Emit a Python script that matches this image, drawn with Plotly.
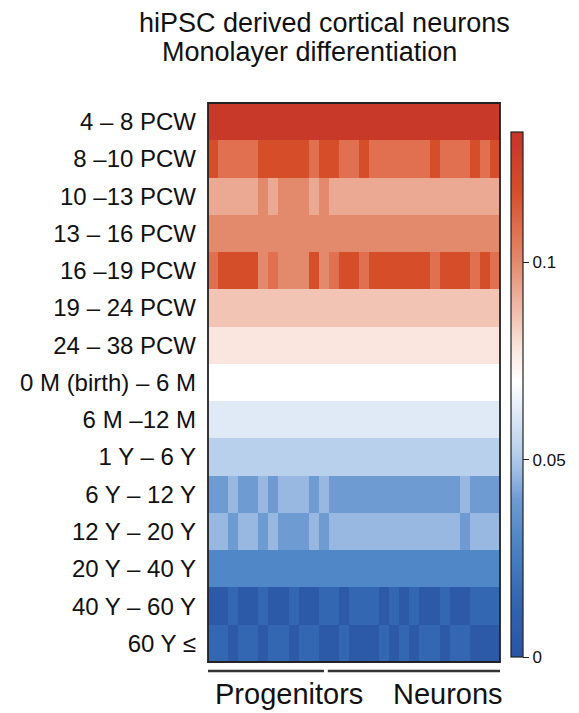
import plotly.graph_objects as go

# ---------------- data ----------------
row_labels = ["4 – 8 PCW", "8 –10 PCW", "10 –13 PCW", "13 – 16 PCW", "16 –19 PCW",
              "19 – 24 PCW", "24 – 38 PCW", "0 M (birth) – 6 M", "6 M –12 M",
              "1 Y – 6 Y", "6 Y – 12 Y", "12 Y – 20 Y", "20 Y – 40 Y",
              "40 Y – 60 Y", "60 Y ≤"]

n_progenitors = 12
n_neurons = 17
samples = [f"P{i+1}" for i in range(n_progenitors)] + [f"N{i+1}" for i in range(n_neurons)]

# values per developmental stage (rows) for each sample (columns)
z_4_8pcw    = [0.130]*29
z_8_10pcw   = [0.118, 0.108, 0.108, 0.108, 0.108, 0.118, 0.118, 0.118, 0.118, 0.118, 0.108, 0.118,
               0.118, 0.108, 0.108, 0.118, 0.108, 0.108, 0.108, 0.108, 0.108, 0.108, 0.118, 0.108,
               0.108, 0.108, 0.118, 0.108, 0.118]
z_10_13pcw  = [0.093, 0.093, 0.093, 0.093, 0.093, 0.100, 0.093, 0.100, 0.100, 0.100, 0.093, 0.100,
               0.093, 0.093, 0.093, 0.093, 0.093, 0.093, 0.093, 0.093, 0.093, 0.093, 0.093, 0.093,
               0.093, 0.093, 0.093, 0.093, 0.093]
z_13_16pcw  = [0.100]*29
z_16_19pcw  = [0.108, 0.118, 0.118, 0.118, 0.118, 0.100, 0.108, 0.100, 0.100, 0.100, 0.118, 0.100,
               0.108, 0.118, 0.118, 0.108, 0.118, 0.118, 0.118, 0.118, 0.118, 0.118, 0.108, 0.118,
               0.118, 0.118, 0.108, 0.118, 0.108]
z_19_24pcw  = [0.086]*29
z_24_38pcw  = [0.078]*29
z_0_6m      = [0.070]*29
z_6_12m     = [0.062]*29
z_1_6y      = [0.052]*29
z_6_12y     = [0.040, 0.040, 0.046, 0.040, 0.040, 0.046, 0.040, 0.046, 0.046, 0.046, 0.040, 0.046,
               0.040, 0.040, 0.040, 0.040, 0.040, 0.040, 0.040, 0.040, 0.040, 0.040, 0.040, 0.040,
               0.040, 0.046, 0.040, 0.040, 0.040]
z_12_20y    = [0.046, 0.046, 0.040, 0.046, 0.046, 0.040, 0.046, 0.040, 0.040, 0.040, 0.046, 0.040,
               0.046, 0.046, 0.046, 0.046, 0.046, 0.046, 0.046, 0.046, 0.046, 0.046, 0.046, 0.046,
               0.046, 0.040, 0.046, 0.046, 0.046]
z_20_40y    = [0.030]*29
z_40_60y    = [0.005, 0.005, 0.015, 0.005, 0.005, 0.015, 0.005, 0.005, 0.015, 0.005, 0.005, 0.015,
               0.015, 0.005, 0.015, 0.015, 0.015, 0.005, 0.015, 0.005, 0.015, 0.005, 0.005, 0.015,
               0.005, 0.005, 0.015, 0.015, 0.015]
z_60y       = [0.015, 0.015, 0.005, 0.015, 0.015, 0.005, 0.015, 0.015, 0.005, 0.015, 0.015, 0.005,
               0.005, 0.015, 0.005, 0.005, 0.005, 0.015, 0.005, 0.015, 0.005, 0.015, 0.015, 0.005,
               0.015, 0.015, 0.005, 0.005, 0.005]

z = [z_4_8pcw, z_8_10pcw, z_10_13pcw, z_13_16pcw, z_16_19pcw, z_19_24pcw, z_24_38pcw,
     z_0_6m, z_6_12m, z_1_6y, z_6_12y, z_12_20y, z_20_40y, z_40_60y, z_60y]

zmin, zmax = 0.0, 0.133
cbar_tickvals = [0, 0.05, 0.1]
cbar_ticktext = ["0", "0.05", "0.1"]

# ---------------- style ----------------
stops = [(0.000, "#2A55A5"), (0.005, "#2C5AA9"), (0.015, "#3467B2"), (0.030, "#5087C7"),
         (0.040, "#6E9BD2"), (0.046, "#98B8E2"), (0.052, "#B8D0EC"), (0.062, "#E0EAF6"),
         (0.070, "#FFFFFF"), (0.078, "#FAE6DF"), (0.086, "#F2C4B4"), (0.093, "#EBA892"),
         (0.100, "#E38A6C"), (0.108, "#E07050"), (0.118, "#D44E2A"), (0.130, "#C9392A"),
         (0.133, "#C63528")]
colorscale = [[v / zmax, c] for v, c in stops]

# page has an 8px body margin; figure coordinates below are page coords minus 8
W, H = 571, 705
L, R, T, B = 198, 495, 95, 654
pw, ph = R - L, B - T

FONT = "Liberation Sans, Arial, Helvetica, sans-serif"

cb_top, cb_bot = 124, 649

fig = go.Figure(go.Heatmap(
    z=z, x=list(range(len(samples))), y=list(range(len(row_labels))),
    zmin=zmin, zmax=zmax, colorscale=colorscale,
    hovertext=[[f"{row_labels[i]} / {samples[j]}" for j in range(len(samples))] for i in range(len(row_labels))],
    colorbar=dict(
        x=(506 - L) / pw, xanchor="left", xref="paper", xpad=0,
        y=(B - (cb_top + cb_bot) / 2) / ph, yanchor="middle", ypad=0,
        len=cb_bot - cb_top, lenmode="pixels",
        thickness=12, outlinewidth=1.2, outlinecolor="#222",
        tickvals=cbar_tickvals, ticktext=cbar_ticktext,
        ticks="outside", ticklen=6, tickwidth=1.2, tickcolor="#222",
        tickfont=dict(family=FONT, size=17, color="#111"),
    ),
))

fig.update_layout(
    width=W, height=H,
    margin=dict(l=L, r=W - R, t=T, b=H - B, pad=0),
    paper_bgcolor="white", plot_bgcolor="white",
    xaxis=dict(range=[-0.5, len(samples) - 0.5], showticklabels=False, showgrid=False,
               zeroline=False, ticks=""),
    yaxis=dict(range=[len(row_labels) - 0.5, -0.5], tickvals=list(range(len(row_labels))),
               ticktext=row_labels, showgrid=False, zeroline=False, ticks="",
               ticklabelstandoff=11,
               tickfont=dict(family=FONT, size=24, color="#111")),
    showlegend=False,
)

# heatmap frame
fig.add_shape(type="rect", xref="paper", yref="paper", x0=0, x1=1, y0=0, y1=1,
              line=dict(color="#222", width=1.8), fillcolor="rgba(0,0,0,0)")

# group bars
bar_y = -(663 - B) / ph
groups = [("Progenitors", 0, n_progenitors - 1), ("Neurons", n_progenitors, len(samples) - 1)]
for name, a, b in groups:
    x0 = a - 0.7 if a == 0 else a - 0.6
    x1 = b + 0.7 if b == len(samples) - 1 else b + 0.02
    fig.add_shape(type="line", xref="x", yref="paper", x0=x0, x1=x1,
                  y0=bar_y, y1=bar_y, line=dict(color="#333", width=2.5))

fig.add_annotation(text="Progenitors", xref="paper", yref="paper", x=(280 - L) / pw,
                   y=-(686 - B) / ph, xanchor="center", yanchor="middle", showarrow=False,
                   font=dict(family=FONT, size=29, color="#111"))
fig.add_annotation(text="Neurons", xref="paper", yref="paper", x=(442 - L) / pw,
                   y=-(686 - B) / ph, xanchor="center", yanchor="middle", showarrow=False,
                   font=dict(family=FONT, size=29, color="#111"))

# title lines
fig.add_annotation(text="hiPSC derived cortical neurons", xref="paper", yref="paper",
                   x=(316 - L) / pw, y=(B - 15) / ph, xanchor="center", yanchor="middle",
                   showarrow=False, font=dict(family=FONT, size=27, color="#111"))
fig.add_annotation(text="Monolayer differentiation", xref="paper", yref="paper",
                   x=(301 - L) / pw, y=(B - 44) / ph, xanchor="center", yanchor="middle",
                   showarrow=False, font=dict(family=FONT, size=27, color="#111"))

fig.write_html("out.html")
